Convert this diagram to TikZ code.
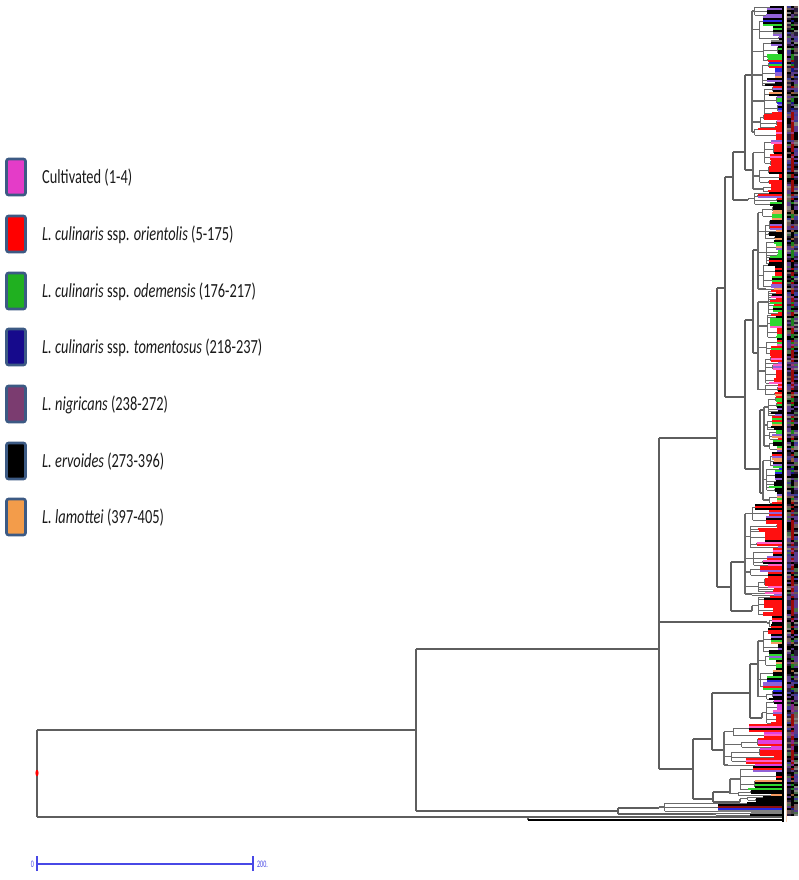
\documentclass[tikz,border=0pt]{standalone}
\usepackage{fontspec}
\setmainfont{Carlito}
\usepackage{graphicx}
\definecolor{tred}{HTML}{FF1010}
\definecolor{tpink}{HTML}{FF5FC8}
\definecolor{tmag}{HTML}{E040E0}
\definecolor{tgreen}{HTML}{30D830}
\definecolor{tblue}{HTML}{2828E0}
\definecolor{tvio}{HTML}{9262D8}
\definecolor{torange}{HTML}{F49A60}
\definecolor{tgray}{HTML}{808080}
\definecolor{tdred}{HTML}{8C1010}
\definecolor{skc}{HTML}{5E5E5E}
\definecolor{brc}{HTML}{6A6A6A}
\definecolor{boxb}{HTML}{3C5A84}
\definecolor{txt}{HTML}{1A1A1A}
\definecolor{cCult}{HTML}{E43CC8}
\definecolor{cOri}{HTML}{FF0000}
\definecolor{cOde}{HTML}{20B020}
\definecolor{cTom}{HTML}{160A8C}
\definecolor{cNig}{HTML}{7B3C70}
\definecolor{cErv}{HTML}{000000}
\definecolor{cLam}{HTML}{F39C4A}
\definecolor{scb}{HTML}{4848E6}
\definecolor{sA}{HTML}{2A1E3C}
\definecolor{sB}{HTML}{5A3C8C}
\definecolor{sC}{HTML}{3C3C96}
\definecolor{sD}{HTML}{6E5A5A}
\definecolor{sE}{HTML}{4A6E4A}
% palettes
\def\palK#1{\ifcase#1 black\or black\or black\or black\or black\or tvio\or tvio\or tblue\or tgreen\or tgray\fi}
\def\palG#1{\ifcase#1 tgreen\or tgreen\or tgreen\or tgreen\or black\or black\or black\or tvio\or tred\or torange\fi}
\def\palM#1{\ifcase#1 black\or black\or black\or tvio\or tvio\or tgreen\or tgreen\or tred\or torange\or tblue\fi}
\def\palR#1{\ifcase#1 tred\or tred\or tred\or tred\or tred\or tred\or tred\or black\or tpink\or tvio\fi}
\def\palRG#1{\ifcase#1 tred\or tred\or tred\or tred\or tred\or tgreen\or tgreen\or tgreen\or tpink\or black\fi}
\def\palP#1{\ifcase#1 tpink\or tpink\or tmag\or tmag\or tred\or tred\or tred\or tred\or black\or tvio\fi}
\def\palB#1{\ifcase#1 black\or black\or black\or black\or tgray\or tgray\or tgray\or tgray\or tdred\or tblue\fi}
\def\palS#1{\ifcase#1 black\or sA\or sB\or sC\or sD\or sE\or black\or sB\or sA\or tgray\fi}
\newcommand\setlc[1]{%
  \pgfmathrandominteger{\ri}{0}{9}%
  \ifnum#1<45 \edef\lc{\palK{\ri}}%
  \else\ifnum#1<60 \edef\lc{\palG{\ri}}%
  \else\ifnum#1<110 \edef\lc{\palM{\ri}}%
  \else\ifnum#1<200 \edef\lc{\palR{\ri}}%
  \else\ifnum#1<290 \edef\lc{\palG{\ri}}%
  \else\ifnum#1<350 \edef\lc{\palRG{\ri}}%
  \else\ifnum#1<395 \edef\lc{\palR{\ri}}%
  \else\ifnum#1<490 \edef\lc{\palM{\ri}}%
  \else\ifnum#1<505 \edef\lc{\palG{\ri}}%
  \else\ifnum#1<622 \edef\lc{\palR{\ri}}%
  \else\ifnum#1<700 \edef\lc{\palM{\ri}}%
  \else\ifnum#1<766 \edef\lc{\palP{\ri}}%
  \else\ifnum#1<800 \edef\lc{\palG{\ri}}%
  \else \edef\lc{\palB{\ri}}%
  \fi\fi\fi\fi\fi\fi\fi\fi\fi\fi\fi\fi\fi
}
% a sub-group of leaves: top, bottom, x of its vertical
\newcommand\supgrp[3]{%
 \begingroup
  \def\cyB{#1}%
  \def\smin{10000}\def\smax{-10000}%
  \loop
    \pgfmathrandominteger{\gn}{1}{5}%
    \pgfmathtruncatemacro\gtop{\cyB}%
    \pgfmathtruncatemacro\gbot{min(\cyB+2*(\gn-1),#2)}%
    \pgfmathsetmacro\gx{#3+1+(0.05+0.95*rnd)*(778-#3)}%
    \pgfmathsetmacro\gmid{(\gtop+\gbot)/2}%
    \ifnum\gtop<\gbot \draw[brB] (\gx,\gtop) -- (\gx,\gbot);\fi
    \draw[brB] (#3,\gmid) -- (\gx,\gmid);
    \pgfmathtruncatemacro\gcount{(\gbot-\gtop)/2}%
    \foreach \j in {0,...,\gcount}{%
      \pgfmathtruncatemacro\yy{\gtop+2*\j}%
      \setlc{\yy}%
      \draw[leafl,color=\lc] (\gx,\yy) -- (783,\yy);
      \pgfmathrandominteger{\si}{0}{9}\edef\sca{\palS{\si}}%
      \pgfmathrandominteger{\si}{0}{9}\edef\scb{\palS{\si}}%
      \draw[stripl,color=\sca] (787,\yy) -- (790.5,\yy);
      \draw[stripl,color=\lc!60!black] (790.5,\yy) -- (794,\yy);
      \draw[stripl,color=\scb] (794,\yy) -- (797.5,\yy);
    }%
    \pgfmathsetmacro\smin{min(\smin,\gmid)}%
    \pgfmathsetmacro\smax{max(\smax,\gmid)}%
    \pgfmathtruncatemacro\cyB{\gbot+2}%
  \unless\ifnum\cyB>#2 \repeat
  \draw[brB] (#3,\smin) -- (#3,\smax);
  \pgfmathsetmacro\tmp{(\smin+\smax)/2}%
  \xdef\gm{\tmp}%
 \endgroup
}
% a cluster: top, bottom, root x, attach y
\newcommand\clus[4]{%
 \begingroup
  \def\cyA{#1}%
  \def\cmin{#4}\def\cmax{#4}%
  \loop
    \pgfmathrandominteger{\sgn}{5}{14}%
    \pgfmathtruncatemacro\sgtop{\cyA}%
    \pgfmathtruncatemacro\sgbot{min(\cyA+2*(\sgn-1),#2)}%
    \pgfmathsetmacro\sgx{#3+2+rnd*0.5*(774-#3)}%
    \supgrp{\sgtop}{\sgbot}{\sgx}%
    \draw[brA] (#3,\gm) -- (\sgx,\gm);
    \pgfmathsetmacro\cmin{min(\cmin,\gm)}%
    \pgfmathsetmacro\cmax{max(\cmax,\gm)}%
    \pgfmathtruncatemacro\cyA{\sgbot+2}%
  \unless\ifnum\cyA>#2 \repeat
  \draw[brA] (#3,\cmin) -- (#3,\cmax);
 \endgroup
}
\tikzset{
 skel/.style={draw=skc, line width=1.8pt},
 brA/.style={draw=brc, line width=1.1pt},
 brB/.style={draw=brc, line width=0.8pt},
 leafl/.style={line width=1.25pt},
 stripl/.style={line width=1.6pt},
 lbox/.style={draw=boxb, fill=#1, line width=2.6pt, rounded corners=2pt, minimum width=19pt, minimum height=36pt, inner sep=0pt},
 ltext/.style={anchor=west, inner sep=0pt, text=txt, font=\fontsize{20}{22}\selectfont},
 scbar/.style={draw=scb, line width=1.4pt},
 sclab/.style={inner sep=0pt, text=scb, font=\fontsize{10}{11}\selectfont},
}
\begin{document}
\begin{tikzpicture}[x=1pt,y=-1pt]
\useasboundingbox (0,0) rectangle (799,880);
\fill[white] (0,0) rectangle (799,880);
\pgfmathsetseed{20}
% ---- skeleton ----
\draw[skel] (37,730) -- (37,817);
\draw[skel] (37,730) -- (416,730);
\draw[skel] (37,817) -- (783,817);
\draw[skel] (528,817) -- (528,820);
\draw[draw=black, line width=2pt] (528,820) -- (783,820);
\draw[skel] (416,649) -- (416,811);
\draw[skel] (416,649) -- (659,649);
\draw[skel] (416,811) -- (618,811);
\draw[skel] (618,808) -- (618,814);
\draw[skel] (618,808) -- (659,808);
\draw[skel] (618,814) -- (713,814);
\draw[skel] (659,438) -- (659,769);
\draw[skel] (659,438) -- (717,438);
\draw[skel] (659,622) -- (767,622);
\draw[skel] (659,769) -- (693,769);
\draw[skel] (717,288) -- (717,587);
\draw[skel] (717,288) -- (725,288);
\draw[skel] (717,587) -- (731,587);
\draw[skel] (725,177) -- (725,397);
\draw[skel] (725,177) -- (733,177);
\draw[skel] (725,397) -- (745,397);
\draw[skel] (733,152) -- (733,200);
\draw[skel] (733,152) -- (745,152);
\draw[skel] (733,200) -- (748,200);
\draw[skel] (745,75) -- (745,170);
\draw[skel] (745,75) -- (752,75);
\draw[skel] (745,170) -- (753,170);
\draw[skel] (745,320) -- (745,469);
\draw[skel] (745,320) -- (753,320);
\draw[skel] (745,469) -- (760,469);
\draw[skel] (753,250) -- (753,353);
\draw[skel] (753,250) -- (758,250);
\draw[skel] (753,353) -- (758,353);
\draw[skel] (760,410) -- (760,493);
\draw[skel] (760,410) -- (764,410);
\draw[skel] (760,493) -- (763,493);
\draw[skel] (731,562) -- (731,611);
\draw[skel] (731,562) -- (745,562);
\draw[skel] (731,611) -- (752,611);
\draw[skel] (693,739) -- (693,799);
\draw[skel] (693,739) -- (712,739);
\draw[skel] (693,799) -- (713,799);
\draw[skel] (712,693) -- (712,750);
\draw[skel] (712,693) -- (750,693);
\draw[skel] (712,750) -- (724,750);
\draw[skel] (750,664) -- (750,718);
\draw[skel] (750,664) -- (758,664);
\draw[skel] (750,718) -- (762,718);
\draw[skel] (713,792) -- (713,802);
\draw[skel] (713,792) -- (730,792);
\draw[skel] (713,802) -- (740,802);
% ---- leaf clusters ----
\clus{7}{139}{752}{75}
\clus{141}{191}{753}{170}
\clus{193}{205}{748}{200}
\clus{207}{289}{758}{250}
\clus{291}{395}{758}{353}
\clus{397}{451}{764}{410}
\clus{453}{503}{763}{493}
\clus{505}{595}{745}{562}
\clus{597}{615}{752}{611}
\clus{617}{627}{767}{622}
\clus{629}{699}{758}{664}
\clus{701}{723}{762}{718}
\clus{725}{765}{724}{750}
\clus{767}{795}{730}{792}
\clus{797}{801}{740}{802}
\clus{803}{811}{659}{808}
\clus{813}{815}{713}{814}
% tips line and label strip edge
\draw[black, line width=1.3pt] (783,6) -- (783,822);
\draw[color=torange!45!white, line width=0.8pt] (786,6) -- (786,822);
% root marker
\fill[red] (37,773) ellipse (1.6pt and 3.2pt);
% ---- legend ----
\node[lbox=cCult] (b1) at (16,177) {};
\node[lbox=cOri]  (b2) at (16,234) {};
\node[lbox=cOde]  (b3) at (16,291) {};
\node[lbox=cTom]  (b4) at (16,347) {};
\node[lbox=cNig]  (b5) at (16,404) {};
\node[lbox=cErv]  (b6) at (16,461) {};
\node[lbox=cLam]  (b7) at (16,517) {};
\node[ltext] (t1) at (42,178) {\scalebox{0.72}[1]{Cultivated (1-4)}};
\node[ltext] (t2) at (42,235) {\scalebox{0.72}[1]{\textit{L. culinaris} ssp. \textit{orientolis} (5-175)}};
\node[ltext] (t3) at (42,292) {\scalebox{0.72}[1]{\textit{L. culinaris} ssp. \textit{odemensis} (176-217)}};
\node[ltext] (t4) at (42,348) {\scalebox{0.72}[1]{\textit{L. culinaris} ssp. \textit{tomentosus} (218-237)}};
\node[ltext] (t5) at (42,405) {\scalebox{0.72}[1]{\textit{L. nigricans} (238-272)}};
\node[ltext] (t6) at (42,462) {\scalebox{0.72}[1]{\textit{L. ervoides} (273-396)}};
\node[ltext] (t7) at (42,518) {\scalebox{0.72}[1]{\textit{L. lamottei} (397-405)}};
% ---- scale bar ----
\coordinate (s0) at (37,864);
\coordinate (s1) at (253,864);
\draw[scbar] (s0) -- (s1);
\draw[scbar] ([yshift=-7pt]s0) -- ([yshift=8pt]s0);
\draw[scbar] ([yshift=-7pt]s1) -- ([yshift=8pt]s1);
\node[sclab, anchor=east] (l0) at (34,864) {\scalebox{0.6}[1]{0}};
\node[sclab, anchor=west] (l1) at (257,864) {\scalebox{0.6}[1]{200.}};
\end{tikzpicture}
\end{document}
